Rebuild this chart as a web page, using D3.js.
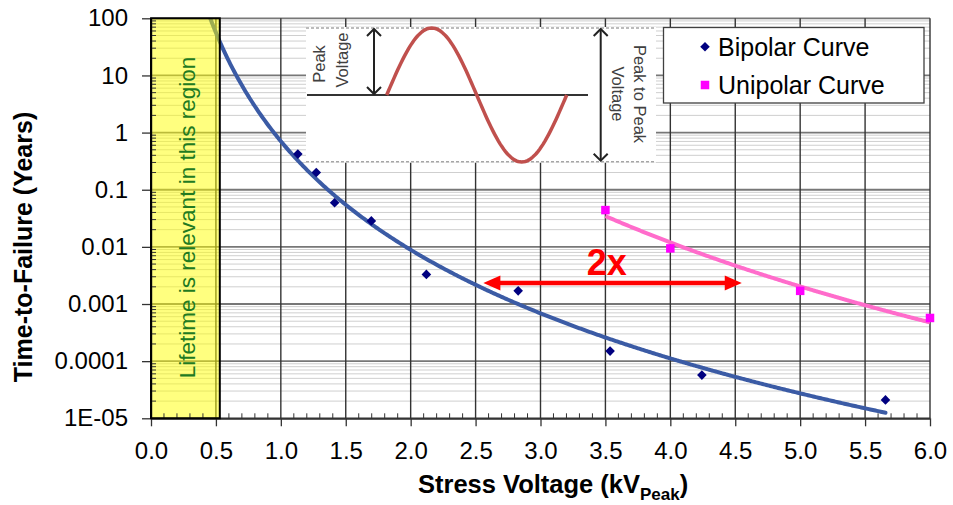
<!DOCTYPE html>
<html><head><meta charset="utf-8">
<script src="https://cdn.jsdelivr.net/npm/d3@7"></script>
<style>
html,body{margin:0;padding:0;background:#fff;}
svg{display:block;font-family:"Liberation Sans",Arial,sans-serif;}
</style></head><body>
<svg id="chart" width="953" height="505"></svg>
<script>
// ---- data ----
const bipolarVoltage = [1.131, 1.273, 1.414, 1.697, 2.121, 2.828, 3.536, 4.243, 5.657];
const bipolarLife    = [0.42, 0.20, 0.059, 0.0285, 0.0033, 0.0017, 0.00015, 0.000057, 0.000021];
const unipolarVoltage = [3.5, 4.0, 5.0, 6.0];
const unipolarLife    = [0.044, 0.0094, 0.0017, 0.00057];
const seriesNames = ["Bipolar Curve", "Unipolar Curve"];
const xTickValues = [0, 0.5, 1, 1.5, 2, 2.5, 3, 3.5, 4, 4.5, 5, 5.5, 6];
const yTickValues = [100, 10, 1, 0.1, 0.01, 0.001, 0.0001, 0.00001];
const yTickLabels = ["100", "10", "1", "0.1", "0.01", "0.001", "0.0001", "1E-05"];
const relevantRegion = [0, 0.53];
const ratioArrowVoltage = [2.56, 4.55];
const ratioArrowLife = [0.00234];
const ratioLabel = ["2x"];

// ---- layout ----
const svg = d3.select("#chart");
const L = 151, R = 930, T = 18.3, B = 418.3;
const x = d3.scaleLinear().domain([0, 6]).range([L, R]);
const y = d3.scaleLog().domain([1e-5, 100]).range([B, T]);

svg.append("defs").append("clipPath").attr("id", "plotclip")
  .append("rect").attr("x", L).attr("y", T).attr("width", R - L).attr("height", B - T);

// minor gridlines
const minorY = [];
for (let e = -5; e < 2; e++) for (let k = 2; k <= 9; k++) minorY.push(k * Math.pow(10, e));
const grid = svg.append("g");
grid.selectAll("line.minor").data(minorY).join("line")
  .attr("x1", L).attr("x2", R).attr("y1", d => y(d)).attr("y2", d => y(d))
  .attr("stroke", "#cfcfcf").attr("stroke-width", 1);
grid.selectAll("line.majy").data(yTickValues).join("line")
  .attr("x1", L).attr("x2", R).attr("y1", d => y(d)).attr("y2", d => y(d))
  .attr("stroke", "#777").attr("stroke-width", 1.8);
grid.selectAll("line.majx").data(xTickValues).join("line")
  .attr("x1", d => x(d)).attr("x2", d => x(d)).attr("y1", T).attr("y2", B)
  .attr("stroke", "#333").attr("stroke-width", 1.4);

// ---- inset illustration (white box) ----
const ins = svg.append("g");
const iL = 306, iR = 656, iT = 28, iB = 161.7, iMid = 95;
ins.append("rect").attr("x", iL).attr("y", iT - 1).attr("width", iR - iL).attr("height", iB - iT + 2).attr("fill", "#fff");
[iT, iB].forEach(yy => ins.append("line").attr("x1", iL).attr("x2", iR).attr("y1", yy).attr("y2", yy)
  .attr("stroke", "#a6a6a6").attr("stroke-width", 1.6).attr("stroke-dasharray", "3,2"));
ins.append("line").attr("x1", iL + 1).attr("x2", 588).attr("y1", iMid).attr("y2", iMid)
  .attr("stroke", "#333").attr("stroke-width", 2);
const sx0 = 386.7, sx1 = 566.7, amp = 67;
const sinePts = d3.range(0, 1.0001, 0.01).map(t => [sx0 + t * (sx1 - sx0), iMid - amp * Math.sin(2 * Math.PI * t)]);
ins.append("path").attr("d", d3.line()(sinePts)).attr("fill", "none").attr("stroke", "#c0504d").attr("stroke-width", 3.5);
function dblArrow(ax, y1, y2) {
  ins.append("line").attr("x1", ax).attr("x2", ax).attr("y1", y1 + 1).attr("y2", y2 - 1).attr("stroke", "#222").attr("stroke-width", 2);
  ins.append("path").attr("d", `M${ax - 7},${y1 + 8}L${ax},${y1 + 1}L${ax + 7},${y1 + 8}`).attr("fill", "none").attr("stroke", "#222").attr("stroke-width", 2);
  ins.append("path").attr("d", `M${ax - 7},${y2 - 8}L${ax},${y2 - 1}L${ax + 7},${y2 - 8}`).attr("fill", "none").attr("stroke", "#222").attr("stroke-width", 2);
}
dblArrow(374, iT, iMid);
dblArrow(600.7, iT, iB);
function rotText(tx, ty, ang, str) {
  ins.append("text").attr("transform", `translate(${tx},${ty}) rotate(${ang})`)
    .attr("text-anchor", "middle").attr("font-size", 16.5).attr("fill", "#404040").text(str);
}
rotText(325, 64, -90, "Peak");
rotText(347.5, 60, -90, "Voltage");
rotText(633.5, 94, 90, "Peak to Peak");
rotText(611.5, 94, 90, "Voltage");

// ---- trendlines (least-squares power fits) ----
function powerFit(xs, ys) {
  const lx = xs.map(Math.log10), ly = ys.map(Math.log10);
  const mx = d3.mean(lx), my = d3.mean(ly);
  const b = d3.sum(lx, (v, i) => (v - mx) * (ly[i] - my)) / d3.sum(lx, v => (v - mx) * (v - mx));
  const a = my - b * mx;
  return v => Math.pow(10, a + b * Math.log10(v));
}
const fitB = powerFit(bipolarVoltage, bipolarLife);
const fitU = powerFit(unipolarVoltage, unipolarLife);
const lineGen = d3.line().x(d => x(d[0])).y(d => y(d[1]));
const plotG = svg.append("g").attr("clip-path", "url(#plotclip)");
const bx = d3.range(0.42, d3.max(bipolarVoltage), 0.01).concat([d3.max(bipolarVoltage)]);
plotG.append("path").attr("d", lineGen(bx.map(v => [v, fitB(v)])))
  .attr("fill", "none").attr("stroke", "#3b5ba5").attr("stroke-width", 4).attr("stroke-linecap", "round");
const ux = d3.range(d3.min(unipolarVoltage), d3.max(unipolarVoltage), 0.01).concat([d3.max(unipolarVoltage)]);
plotG.append("path").attr("d", lineGen(ux.map(v => [v, fitU(v)])))
  .attr("fill", "none").attr("stroke", "#ff6ccb").attr("stroke-width", 4);

// markers
const diamondPath = d3.symbol().type(d3.symbolSquare).size(46);
svg.append("g").selectAll("path").data(bipolarVoltage).join("path")
  .attr("d", diamondPath).attr("transform", (d, i) => `translate(${x(d)},${y(bipolarLife[i])}) rotate(45)`)
  .attr("fill", "#000080");
svg.append("g").selectAll("rect").data(unipolarVoltage).join("rect")
  .attr("x", d => x(d) - 4.25).attr("y", (d, i) => y(unipolarLife[i]) - 4.25)
  .attr("width", 8.5).attr("height", 8.5).attr("fill", "#ff00ff");

// ---- yellow region ----
svg.append("rect").attr("x", x(relevantRegion[0])).attr("y", T)
  .attr("width", x(relevantRegion[1]) - x(relevantRegion[0])).attr("height", B - T)
  .attr("fill", "#ffff00").attr("fill-opacity", 0.5);

// ---- axes ----
const fs = 24;
const yAxis = svg.append("g").attr("transform", `translate(${L},0)`)
  .call(d3.axisLeft(y).tickValues(yTickValues).tickFormat((d, i) => yTickLabels[i]).tickSize(9).tickSizeOuter(0).tickPadding(14));
yAxis.select(".domain").attr("stroke", "#333").attr("stroke-width", 1.5);
yAxis.selectAll(".tick line").attr("stroke", "#333").attr("stroke-width", 1.3);
yAxis.selectAll("text").attr("font-size", fs).attr("font-family", "Liberation Sans, Arial, sans-serif").attr("fill", "#000");
svg.append("g").selectAll("line").data(minorY).join("line")
  .attr("x1", L).attr("x2", L + 5).attr("y1", d => y(d)).attr("y2", d => y(d))
  .attr("stroke", "#333").attr("stroke-width", 1);

const xAxis = svg.append("g").attr("transform", `translate(0,${B})`)
  .call(d3.axisBottom(x).tickValues(xTickValues).tickFormat(d3.format(".1f")).tickSize(8).tickSizeOuter(0).tickPadding(16));
xAxis.select(".domain").attr("stroke", "#333").attr("stroke-width", 2);
xAxis.selectAll(".tick line").attr("stroke", "#333").attr("stroke-width", 1.3);
xAxis.selectAll("text").attr("font-size", fs).attr("font-family", "Liberation Sans, Arial, sans-serif").attr("fill", "#000");
const minorX = d3.range(0, 61).filter(k => k % 5 !== 0).map(k => k / 10);
svg.append("g").selectAll("line").data(minorX).join("line")
  .attr("x1", d => x(d)).attr("x2", d => x(d)).attr("y1", B).attr("y2", B - 5)
  .attr("stroke", "#333").attr("stroke-width", 1);

// yellow border + text
svg.append("rect").attr("x", x(relevantRegion[0])).attr("y", T)
  .attr("width", x(relevantRegion[1]) - x(relevantRegion[0])).attr("height", B - T)
  .attr("fill", "none").attr("stroke", "#000").attr("stroke-width", 2);
svg.append("text").attr("transform", `translate(195,217.5) rotate(-90)`)
  .attr("text-anchor", "middle").attr("font-size", 22.5).attr("fill", "#217a21")
  .text("Lifetime is relevant in this region");

// axis titles
svg.append("text").attr("transform", `translate(31.5,247) rotate(-90)`)
  .attr("text-anchor", "middle").attr("font-size", 25).attr("font-weight", "bold").attr("fill", "#000")
  .text("Time-to-Failure (Years)");
const xt = svg.append("text").attr("x", 418).attr("y", 493.3).attr("font-size", 25.5).attr("font-weight", "bold").attr("fill", "#000");
xt.append("tspan").text("Stress Voltage (kV");
xt.append("tspan").attr("font-size", 17).attr("dy", 7).text("Peak");
xt.append("tspan").attr("dy", -7).text(")");

// ---- 2x arrow ----
const ay = y(ratioArrowLife[0]), ax1 = x(ratioArrowVoltage[0]), ax2 = x(ratioArrowVoltage[1]);
const arr = svg.append("g").attr("fill", "#ff0000");
arr.append("line").attr("x1", ax1 + 10).attr("x2", ax2 - 10).attr("y1", ay).attr("y2", ay).attr("stroke", "#ff0000").attr("stroke-width", 4.5);
arr.append("path").attr("d", `M${ax1},${ay}L${ax1 + 17},${ay - 7.5}L${ax1 + 17},${ay + 7.5}Z`);
arr.append("path").attr("d", `M${ax2},${ay}L${ax2 - 17},${ay - 7.5}L${ax2 - 17},${ay + 7.5}Z`);
svg.append("text").attr("x", x(3.51)).attr("y", ay - 8).attr("text-anchor", "middle")
  .attr("font-size", 36).attr("font-weight", "bold").attr("fill", "#ff0000").text(ratioLabel[0]);

// ---- legend ----
const lg = svg.append("g");
lg.append("rect").attr("x", 663.5).attr("y", 27.5).attr("width", 260.5).attr("height", 75.5)
  .attr("fill", "#fff").attr("stroke", "#404040").attr("stroke-width", 1.3);
lg.append("path").attr("d", diamondPath).attr("transform", "translate(705,46.7) rotate(45)").attr("fill", "#000080");
lg.append("rect").attr("x", 700.75).attr("y", 80.75).attr("width", 8.5).attr("height", 8.5).attr("fill", "#ff00ff");
lg.selectAll("text").data(seriesNames).join("text")
  .attr("x", 718).attr("y", (d, i) => 55.5 + i * 38.5).attr("font-size", 25).attr("fill", "#000").text(d => d);
</script>
</body></html>
